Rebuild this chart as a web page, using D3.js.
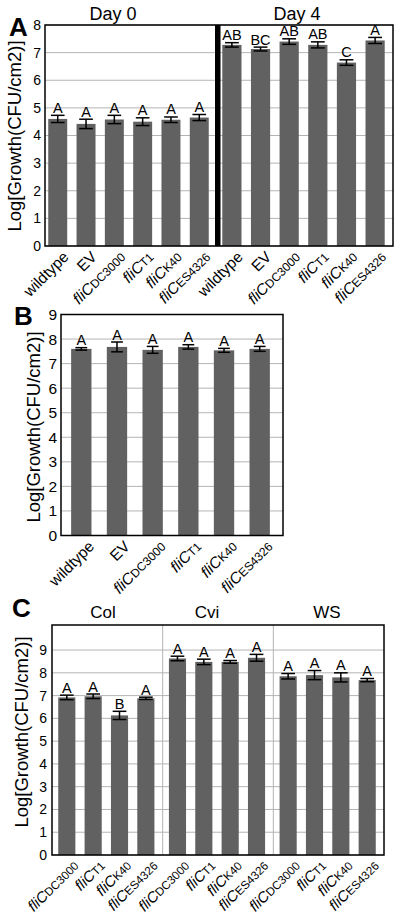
<!DOCTYPE html>
<html><head><meta charset="utf-8">
<script src="https://cdn.jsdelivr.net/npm/d3@7"></script>
<style>
body{margin:0;background:#fff}
svg{display:block}
text{font-family:"Liberation Sans",Arial,Helvetica,sans-serif;fill:#000}
</style>
</head><body>
<svg id="chart" width="400" height="915"></svg>
<script>
// ---------- data ----------
const strainMain = ["wildtype","EV","fliC","fliC","fliC","fliC"];
const strainSub  = ["","","DC3000","T1","K40","ES4326"];
const cStrainMain = ["fliC","fliC","fliC","fliC"];
const cStrainSub  = ["DC3000","T1","K40","ES4326"];

const day0Values  = [4.60, 4.42, 4.58, 4.50, 4.57, 4.65];
const day0Errors  = [0.13, 0.17, 0.15, 0.14, 0.10, 0.11];
const day0Letters = ["A","A","A","A","A","A"];
const day4Values  = [7.28, 7.13, 7.40, 7.28, 6.64, 7.44];
const day4Errors  = [0.08, 0.07, 0.10, 0.11, 0.10, 0.11];
const day4Letters = ["AB","BC","AB","AB","C","A"];
const aTicks = [0,1,2,3,4,5,6,7,8];
const aTitles = ["Day 0","Day 4"];

const bValues  = [7.60, 7.68, 7.56, 7.68, 7.54, 7.60];
const bErrors  = [0.05, 0.20, 0.14, 0.09, 0.08, 0.10];
const bLetters = ["A","A","A","A","A","A"];
const bTicks = [0,1,2,3,4,5,6,7,8,9];

const cGroups = ["Col","Cvi","WS"];
const colValues = [6.92, 6.97, 6.13, 6.88];
const colErrors = [0.10, 0.10, 0.18, 0.05];
const colLetters = ["A","A","B","A"];
const cviValues = [8.63, 8.48, 8.48, 8.66];
const cviErrors = [0.10, 0.12, 0.06, 0.15];
const cviLetters = ["A","A","A","A"];
const wsValues = [7.85, 7.90, 7.80, 7.68];
const wsErrors = [0.12, 0.20, 0.20, 0.07];
const wsLetters = ["A","A","A","A"];
const cTicks = [0,1,2,3,4,5,6,7,8,9];

const yTitle = "Log[Growth(CFU/cm2)]";

// ---------- helpers ----------
const svg = d3.select("#chart");
const BAR = "#616161", GRID = "#b4b4b4";

function grid(g, y, ticks, x0, x1){
  g.selectAll(null).data(ticks).join("line")
    .attr("x1",x0).attr("x2",x1)
    .attr("y1",d=>y(d)).attr("y2",d=>y(d))
    .attr("stroke",GRID).attr("stroke-width",1);
}
function yAxis(g, y, ticks, x, size, pad){
  const ax = g.append("g").attr("transform",`translate(${x},0)`)
    .call(d3.axisLeft(y).tickValues(ticks).tickSize(0).tickPadding(pad));
  ax.select(".domain").remove();
  ax.selectAll("text").attr("font-size",size).attr("font-family","Liberation Sans, Arial, sans-serif").attr("fill","#000");
}
function bars(g, x, y, keys, values, errors, letters, capFrac, letterSize){
  const bw = x.bandwidth();
  const data = keys.map((k,i)=>({k, v:values[i], e:errors[i], l:letters[i]}));
  g.selectAll(null).data(data).join("rect")
    .attr("x",d=>x(d.k)).attr("width",bw)
    .attr("y",d=>y(d.v)).attr("height",d=>y(0)-y(d.v))
    .attr("fill",BAR);
  const cw = bw*capFrac;
  const eg = g.selectAll(null).data(data).join("g");
  eg.append("line").attr("x1",d=>x(d.k)+bw/2).attr("x2",d=>x(d.k)+bw/2)
    .attr("y1",d=>y(d.v+d.e)).attr("y2",d=>y(d.v-d.e))
    .attr("stroke","#000").attr("stroke-width",1.5);
  eg.append("line").attr("x1",d=>x(d.k)+bw/2-cw/2).attr("x2",d=>x(d.k)+bw/2+cw/2)
    .attr("y1",d=>y(d.v+d.e)).attr("y2",d=>y(d.v+d.e))
    .attr("stroke","#000").attr("stroke-width",1.5);
  eg.append("line").attr("x1",d=>x(d.k)+bw/2-cw/2).attr("x2",d=>x(d.k)+bw/2+cw/2)
    .attr("y1",d=>y(d.v-d.e)).attr("y2",d=>y(d.v-d.e))
    .attr("stroke","#000").attr("stroke-width",1.5);
  g.selectAll(null).data(data).join("text")
    .attr("x",d=>x(d.k)+bw/2).attr("y",d=>y(d.v+d.e)-2.5)
    .attr("text-anchor","middle").attr("font-size",letterSize).text(d=>d.l);
}
function xLabels(g, x, keys, mains, subs, yb, size, dx, dy){
  const bw = x.bandwidth();
  keys.forEach((k,i)=>{
    const t = g.append("text")
      .attr("transform",`translate(${x(k)+bw/2+dx},${yb+dy}) rotate(-45)`)
      .attr("text-anchor","end").attr("dy","0.72em").attr("font-size",size);
    if(subs[i]){
      t.append("tspan").attr("font-style","italic").text(mains[i]);
      t.append("tspan").attr("font-size",size*0.78).text(subs[i]);
    } else t.text(mains[i]);
  });
}
function box(g,x0,y0,x1,y1){
  g.append("rect").attr("x",x0).attr("y",y0).attr("width",x1-x0).attr("height",y1-y0)
    .attr("fill","none").attr("stroke","#000").attr("stroke-width",1.5);
}
function yTitleText(g, x, yc, size){
  g.append("text").attr("transform",`translate(${x},${yc}) rotate(-90)`)
    .attr("text-anchor","middle").attr("font-size",size).text(yTitle);
}
function panelLabel(g,x,y,t){
  g.append("text").attr("x",x).attr("y",y).attr("font-size",26).attr("font-weight","bold").text(t);
}

// ---------- Panel A ----------
{
  const g = svg.append("g");
  const L=45,R=393,T=25,B=246;
  const y = d3.scaleLinear().domain([0,8]).range([B,T]);
  const keys = d3.range(6).map(String);
  const x0 = d3.scaleBand().domain(keys).range([44,213]).paddingInner(0.33).paddingOuter(0.15);
  const x4 = d3.scaleBand().domain(keys).range([218,389]).paddingInner(0.33).paddingOuter(0.15);
  grid(g,y,aTicks,L,R);
  bars(g,x0,y,keys,day0Values,day0Errors,day0Letters,0.72,14.5);
  bars(g,x4,y,keys,day4Values,day4Errors,day4Letters,0.72,14.5);
  g.append("rect").attr("x",215).attr("y",T).attr("width",5.5).attr("height",B-T).attr("fill","#000");
  box(g,L,T,R,B);
  yAxis(g,y,aTicks,L,14,4);
  xLabels(g,x0,keys,strainMain,strainSub,B,15.5,4,4);
  xLabels(g,x4,keys,strainMain,strainSub,B,15.5,4,4);
  g.append("text").attr("x",113).attr("y",20).attr("text-anchor","middle").attr("font-size",18).text(aTitles[0]);
  g.append("text").attr("x",297).attr("y",20).attr("text-anchor","middle").attr("font-size",18).text(aTitles[1]);
  yTitleText(g,21,136,18.5);
  panelLabel(g,9,36,"A");
}

// ---------- Panel B ----------
{
  const g = svg.append("g");
  const L=61,R=283,T=314.5,B=535.5;
  const y = d3.scaleLinear().domain([0,9]).range([B,T]);
  const keys = d3.range(6).map(String);
  const x = d3.scaleBand().domain(keys).range([64,277]).paddingInner(0.43).paddingOuter(0.2);
  grid(g,y,bTicks,L,R);
  bars(g,x,y,keys,bValues,bErrors,bLetters,0.58,14.5);
  box(g,L,T,R,B);
  yAxis(g,y,bTicks,L,15.5,4);
  xLabels(g,x,keys,strainMain,strainSub,B,15.5,6,4);
  yTitleText(g,40,427,18.5);
  panelLabel(g,14,325,"B");
}

// ---------- Panel C ----------
{
  const g = svg.append("g");
  const L=52,R=384,T=625,B=855;
  const y = d3.scaleLinear().domain([0,10.1]).range([B,T]);
  const gx = d3.scaleBand().domain(cGroups).range([L,R]);
  grid(g,y,cTicks,L,R);
  cGroups.slice(1).forEach(gname=>{
    g.append("line").attr("x1",gx(gname)).attr("x2",gx(gname)).attr("y1",T).attr("y2",B)
      .attr("stroke",GRID).attr("stroke-width",1);
  });
  const keys = d3.range(4).map(String);
  const vals = [colValues,cviValues,wsValues];
  const errs = [colErrors,cviErrors,wsErrors];
  const lets = [colLetters,cviLetters,wsLetters];
  const titleX = [103,207,327];
  cGroups.forEach((gname,i)=>{
    const s = gx(gname);
    const x = d3.scaleBand().domain(keys).range([s+1.5,s+gx.bandwidth()-3.5]).paddingInner(0.35).paddingOuter(0.18);
    bars(g,x,y,keys,vals[i],errs[i],lets[i],0.8,14.5);
    xLabels(g,x,keys,cStrainMain,cStrainSub,B,15,5,4);
    g.append("text").attr("x",titleX[i]).attr("y",618).attr("text-anchor","middle").attr("font-size",17).text(gname);
  });
  box(g,L,T,R,B);
  yAxis(g,y,cTicks,L,14,5);
  yTitleText(g,28,732,18.5);
  panelLabel(g,12,617,"C");
}
</script>
</body></html>
